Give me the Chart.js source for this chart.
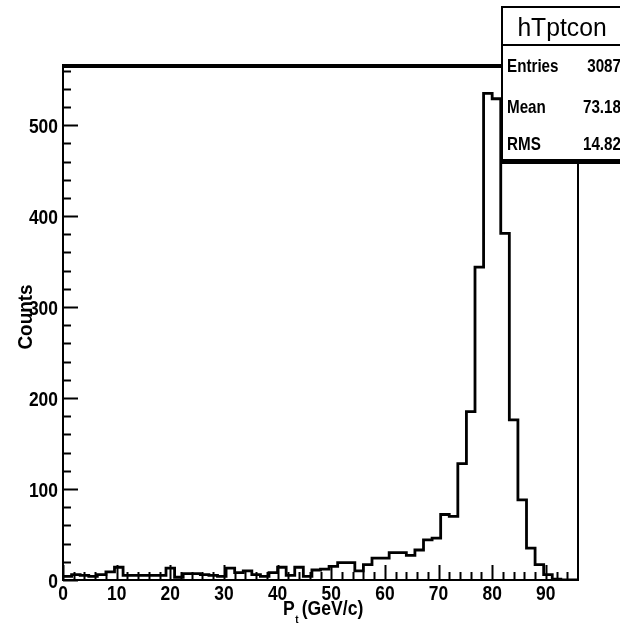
<!DOCTYPE html>
<html><head><meta charset="utf-8">
<script src="https://cdn.jsdelivr.net/npm/chart.js@4.4.1/dist/chart.umd.min.js"></script>
<style>html,body{margin:0;padding:0;background:#fff;}#wrap{width:620px;height:636px;}</style>
</head><body><div id="wrap"><canvas id="c" width="620" height="636"></canvas></div>
<script>
// ---- data ----
const binLowEdges = [0,1.6,3.2,4.8,6.4,8,9.6,11.2,12.8,14.4,16,17.6,19.2,20.8,22.4,24,25.6,27.2,28.8,30.4,
  32,33.6,35.2,36.8,38.4,40,41.6,43.2,44.8,46.4,48,49.6,51.2,52.8,54.4,56,57.6,59.2,60.8,62.4,
  64,65.6,67.2,68.8,70.4,72,73.6,75.2,76.8,78.4,80,81.6,83.2,84.8,86.4,88,89.6,91.2,92.8,94.4];
const lastBinUpEdge = 96;
const counts = [4,6,5,4,6,9,14,5,5,5,5,5,13,3,7,7,6,5,4,13,
  8,10,6,4,8,14,5,14,4,11,12,15,19,19,10,17,24,24,30,30,
  27,33,44,46,72,70,128,185,344,535,529,381,176,88,35,17,6,1,0,0];
const xTickValues = [0,10,20,30,40,50,60,70,80,90];
const xTickLabels = ['0','10','20','30','40','50','60','70','80','90'];
const yTickValues = [0,100,200,300,400,500];
const yTickLabels = ['0','100','200','300','400','500'];
const xRange = [0, 96];
const yRange = [0, 565];
const histName = 'hTptcon';
const statLabels = ['Entries','Mean','RMS'];
const statValues = ['3087','73.18','14.82'];
const xTitleMain = 'P', xTitleSub = 't', xTitleUnit = '(GeV/c)';
const yTitle = 'Counts';

const FONT = "'Liberation Sans', Arial, Helvetica, sans-serif";

const points = binLowEdges.map((x, i) => ({x: x, y: counts[i]}));
points.push({x: lastBinUpEdge, y: counts[counts.length - 1]});

function txt(ctx, s, x, y, font, align, sx) {
  ctx.save();
  ctx.translate(x, y);
  ctx.scale(sx, 1);
  ctx.font = font;
  ctx.textAlign = align;
  ctx.textBaseline = 'alphabetic';
  ctx.fillText(s, 0, 0);
  ctx.restore();
}

const decor = {
  id: 'rootDecor',
  afterDraw(chart) {
    const ctx = chart.ctx, a = chart.chartArea;
    const xs = chart.scales.x, ys = chart.scales.y;
    ctx.save();
    ctx.strokeStyle = '#000'; ctx.fillStyle = '#000';
    // frame
    ctx.lineWidth = 2;
    ctx.strokeRect(a.left, a.top, a.right - a.left, a.bottom - a.top);
    ctx.fillRect(a.left - 1, a.top - 2, a.right - a.left + 2, 4);
    // ticks pointing inward
    for (let v = yRange[0]; v <= yRange[1]; v += 20) {
      const y = Math.round(ys.getPixelForValue(v)) + 0.5;
      const len = (v % 100 === 0) ? 15 : 8;
      ctx.beginPath(); ctx.moveTo(a.left, y); ctx.lineTo(a.left + len, y); ctx.stroke();
    }
    for (let v = xRange[0]; v < xRange[1]; v += 2) {
      const x = Math.round(xs.getPixelForValue(v)) + 0.5;
      const len = (v % 10 === 0) ? 15 : 8;
      ctx.beginPath(); ctx.moveTo(x, a.bottom); ctx.lineTo(x, a.bottom - len); ctx.stroke();
    }
    // tick labels
    const tf = "bold 21px " + FONT;
    yTickValues.forEach((v, i) => {
      txt(ctx, yTickLabels[i], a.left - 5, ys.getPixelForValue(v) + 7.5, tf, 'right', 0.83);
    });
    xTickValues.forEach((v, i) => {
      txt(ctx, xTickLabels[i], xs.getPixelForValue(v), 600, tf, 'center', 0.83);
    });
    // stats box
    const bx = 502, by = 7, bw = 130, bh = 154;
    ctx.fillStyle = '#fff';
    ctx.fillRect(bx, by, bw, bh);
    ctx.fillStyle = '#000';
    ctx.lineWidth = 2;
    ctx.strokeRect(bx, by, bw, bh);
    ctx.beginPath(); ctx.moveTo(bx, 45); ctx.lineTo(bx + bw, 45); ctx.stroke();
    ctx.fillRect(bx - 1, by + bh - 2, bw + 2, 5);
    txt(ctx, histName, 562, 36, "26px " + FONT, 'center', 0.95);
    const rowsY = [72, 113, 150];
    for (let i = 0; i < statLabels.length; i++) {
      txt(ctx, statLabels[i], 507, rowsY[i], "bold 19px " + FONT, 'left', 0.8);
      txt(ctx, statValues[i], 621, rowsY[i], "bold 19px " + FONT, 'right', 0.8);
    }
    // x title with subscript
    let tx = 283;
    txt(ctx, xTitleMain, tx, 615, "bold 20px " + FONT, 'left', 0.88);
    ctx.font = "bold 20px " + FONT;
    tx += ctx.measureText(xTitleMain).width * 0.88;
    txt(ctx, xTitleSub, tx + 0.5, 623, "bold 11px " + FONT, 'left', 0.9);
    tx += 7;
    txt(ctx, xTitleUnit, tx, 615, "bold 20px " + FONT, 'left', 0.88);
    // y title
    ctx.save();
    ctx.translate(32, 317);
    ctx.rotate(-Math.PI / 2);
    txt(ctx, yTitle, 0, 0, "bold 21px " + FONT, 'center', 0.9);
    ctx.restore();
    ctx.restore();
  }
};

new Chart(document.getElementById('c'), {
  type: 'line',
  data: { datasets: [{
    data: points,
    stepped: true,
    borderColor: '#000',
    borderWidth: 2.8,
    pointRadius: 0,
    fill: false,
    tension: 0
  }]},
  options: {
    responsive: false,
    animation: false,
    devicePixelRatio: 1,
    layout: { padding: { top: 66, right: 42, left: 0, bottom: 0 } },
    plugins: { legend: { display: false }, tooltip: { enabled: false } },
    scales: {
      x: {
        type: 'linear', min: xRange[0], max: xRange[1],
        grid: { display: false, drawTicks: false },
        border: { display: false },
        afterBuildTicks: s => { s.ticks = xTickValues.map(v => ({value: v})); },
        afterFit: s => { s.height = 56; },
        ticks: { display: false }
      },
      y: {
        type: 'linear', min: yRange[0], max: yRange[1],
        grid: { display: false, drawTicks: false },
        border: { display: false },
        afterBuildTicks: s => { s.ticks = yTickValues.map(v => ({value: v})); },
        afterFit: s => { s.width = 63; },
        ticks: { display: false }
      }
    }
  },
  plugins: [decor]
});
</script></body></html>
